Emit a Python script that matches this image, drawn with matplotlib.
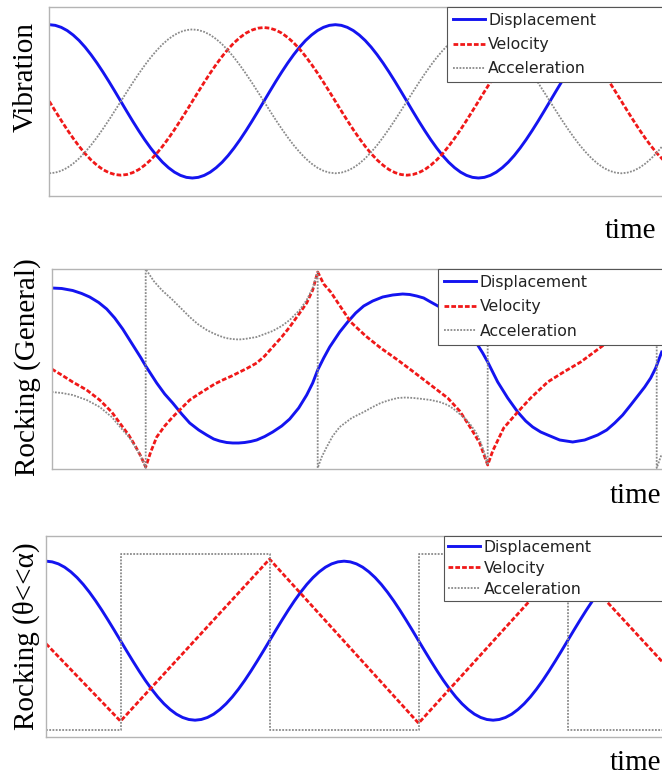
import matplotlib
matplotlib.use('Agg')
import matplotlib.pyplot as plt

# ---------------- Panel 1: Vibration (time in degrees of phase, 7.5 deg steps) ----------------
vib_time = [7.5 * i for i in range(105)]
vib_disp = [0.810, 0.803, 0.782, 0.748, 0.701, 0.643, 0.573, 0.493, 0.405, 0.310, 0.210, 0.106, 0.000,
            -0.106, -0.210, -0.310, -0.405, -0.493, -0.573, -0.643, -0.701, -0.748, -0.782, -0.803, -0.810,
            -0.803, -0.782, -0.748, -0.701, -0.643, -0.573, -0.493, -0.405, -0.310, -0.210, -0.106, 0.000,
            0.106, 0.210, 0.310, 0.405, 0.493, 0.573, 0.643, 0.701, 0.748, 0.782, 0.803,
            0.810, 0.803, 0.782, 0.748, 0.701, 0.643, 0.573, 0.493, 0.405, 0.310, 0.210, 0.106, 0.000,
            -0.106, -0.210, -0.310, -0.405, -0.493, -0.573, -0.643, -0.701, -0.748, -0.782, -0.803, -0.810,
            -0.803, -0.782, -0.748, -0.701, -0.643, -0.573, -0.493, -0.405, -0.310, -0.210, -0.106, 0.000,
            0.106, 0.210, 0.310, 0.405, 0.493, 0.573, 0.643, 0.701, 0.748, 0.782, 0.803,
            0.810, 0.803, 0.782, 0.748, 0.701, 0.643, 0.573, 0.493, 0.405]
vib_vel = [0.000, -0.102, -0.202, -0.299, -0.390, -0.475, -0.552, -0.619, -0.675, -0.721, -0.753, -0.773, -0.780,
           -0.773, -0.753, -0.721, -0.675, -0.619, -0.552, -0.475, -0.390, -0.299, -0.202, -0.102, 0.000,
           0.102, 0.202, 0.299, 0.390, 0.475, 0.552, 0.619, 0.675, 0.721, 0.753, 0.773, 0.780,
           0.773, 0.753, 0.721, 0.675, 0.619, 0.552, 0.475, 0.390, 0.299, 0.202, 0.102,
           0.000, -0.102, -0.202, -0.299, -0.390, -0.475, -0.552, -0.619, -0.675, -0.721, -0.753, -0.773, -0.780,
           -0.773, -0.753, -0.721, -0.675, -0.619, -0.552, -0.475, -0.390, -0.299, -0.202, -0.102, 0.000,
           0.102, 0.202, 0.299, 0.390, 0.475, 0.552, 0.619, 0.675, 0.721, 0.753, 0.773, 0.780,
           0.773, 0.753, 0.721, 0.675, 0.619, 0.552, 0.475, 0.390, 0.299, 0.202, 0.102,
           0.000, -0.102, -0.202, -0.299, -0.390, -0.475, -0.552, -0.619, -0.675]
vib_acc = [-0.760, -0.753, -0.734, -0.702, -0.658, -0.603, -0.537, -0.463, -0.380, -0.291, -0.197, -0.099, 0.000,
           0.099, 0.197, 0.291, 0.380, 0.463, 0.537, 0.603, 0.658, 0.702, 0.734, 0.753, 0.760,
           0.753, 0.734, 0.702, 0.658, 0.603, 0.537, 0.463, 0.380, 0.291, 0.197, 0.099, 0.000,
           -0.099, -0.197, -0.291, -0.380, -0.463, -0.537, -0.603, -0.658, -0.702, -0.734, -0.753,
           -0.760, -0.753, -0.734, -0.702, -0.658, -0.603, -0.537, -0.463, -0.380, -0.291, -0.197, -0.099, 0.000,
           0.099, 0.197, 0.291, 0.380, 0.463, 0.537, 0.603, 0.658, 0.702, 0.734, 0.753, 0.760,
           0.753, 0.734, 0.702, 0.658, 0.603, 0.537, 0.463, 0.380, 0.291, 0.197, 0.099, 0.000,
           -0.099, -0.197, -0.291, -0.380, -0.463, -0.537, -0.603, -0.658, -0.702, -0.734, -0.753,
           -0.760, -0.753, -0.734, -0.702, -0.658, -0.603, -0.537, -0.463, -0.380]

# ---------------- Panel 2: Rocking (General) ----------------
gen_disp_t = [0.00, 0.10, 0.21, 0.30, 0.38, 0.47, 0.55, 0.63, 0.71, 0.77, 0.83, 0.89, 0.94,
              1.05, 1.13, 1.21, 1.30, 1.38, 1.47, 1.55, 1.62, 1.68, 1.75, 1.81, 1.87, 1.93, 1.99,
              2.05, 2.13, 2.21, 2.30, 2.38, 2.47, 2.55, 2.61, 2.66,
              2.72, 2.78, 2.88, 2.96, 3.04, 3.12, 3.21, 3.31, 3.41, 3.51, 3.58, 3.65, 3.72, 3.79,
              3.88, 3.96, 4.04, 4.12, 4.19, 4.26, 4.31, 4.36,
              4.41, 4.46, 4.56, 4.66, 4.74, 4.81, 4.89, 4.96, 5.08, 5.21, 5.33, 5.46, 5.55, 5.63,
              5.71, 5.79, 5.86, 5.93, 5.99, 6.04, 6.10]
gen_disp = [0.81, 0.805, 0.785, 0.755, 0.72, 0.665, 0.60, 0.51, 0.40, 0.305, 0.21, 0.115, 0.03,
            -0.14, -0.25, -0.34, -0.45, -0.54, -0.61, -0.66, -0.70, -0.72, -0.735, -0.74, -0.74, -0.735, -0.725,
            -0.71, -0.675, -0.63, -0.57, -0.50, -0.39, -0.26, -0.14, -0.01,
            0.11, 0.22, 0.37, 0.47, 0.56, 0.63, 0.68, 0.72, 0.74, 0.75, 0.745, 0.73, 0.71, 0.67,
            0.62, 0.56, 0.49, 0.41, 0.33, 0.24, 0.16, 0.07,
            -0.03, -0.13, -0.29, -0.43, -0.52, -0.58, -0.63, -0.66, -0.71, -0.73, -0.71, -0.66, -0.61, -0.54,
            -0.46, -0.36, -0.27, -0.18, -0.09, 0.01, 0.17]

gen_vel_t = [0.00, 0.10, 0.21, 0.35, 0.48, 0.60, 0.71, 0.77, 0.83, 0.89, 0.94,
             0.99, 1.05, 1.13, 1.21, 1.30, 1.38, 1.47, 1.55, 1.63, 1.71, 1.80, 1.88, 1.96, 2.05,
             2.13, 2.21, 2.30, 2.38, 2.48, 2.55, 2.61, 2.66,
             2.72, 2.79, 2.89, 2.99, 3.14, 3.29, 3.46, 3.62, 3.79, 3.96, 4.08, 4.19, 4.28, 4.36,
             4.41, 4.52, 4.66, 4.79, 4.96, 5.12, 5.29, 5.52, 5.68, 5.83, 5.93, 6.00, 6.05, 6.10]
gen_vel = [0.00, -0.06, -0.13, -0.21, -0.31, -0.43, -0.58, -0.66, -0.76, -0.87, -0.98,
           -0.83, -0.68, -0.57, -0.48, -0.39, -0.31, -0.25, -0.20, -0.15, -0.11, -0.07, -0.03, 0.01, 0.06,
           0.13, 0.22, 0.32, 0.42, 0.56, 0.66, 0.79, 0.97,
           0.85, 0.77, 0.62, 0.47, 0.33, 0.21, 0.09, -0.03, -0.16, -0.29, -0.42, -0.59, -0.74, -0.96,
           -0.82, -0.59, -0.43, -0.29, -0.13, -0.03, 0.07, 0.24, 0.41, 0.59, 0.74, 0.84, 0.97, 0.80]

gen_acc_t = [0.00, 0.10, 0.21, 0.35, 0.48, 0.60, 0.71, 0.78, 0.83, 0.89, 0.94,
             0.94, 1.02, 1.10, 1.21, 1.30, 1.38, 1.46, 1.55, 1.62, 1.68, 1.74, 1.80, 1.87, 1.93,
             1.99, 2.05, 2.13, 2.21, 2.30, 2.38, 2.43, 2.48, 2.55, 2.61, 2.66,
             2.66, 2.70, 2.75, 2.81, 2.88, 3.00, 3.12, 3.21, 3.29, 3.38, 3.46, 3.54, 3.62, 3.71,
             3.79, 3.88, 3.96, 4.02, 4.08, 4.14, 4.19, 4.24, 4.28, 4.32, 4.36,
             4.36, 4.44, 4.52, 4.63, 4.72, 4.80, 4.88, 4.97, 5.04, 5.10, 5.16, 5.22, 5.29, 5.35,
             5.41, 5.47, 5.55, 5.63, 5.72, 5.80, 5.85, 5.90, 5.95, 6.00, 6.05,
             6.05, 6.10]
gen_acc = [-0.23, -0.24, -0.26, -0.31, -0.38, -0.48, -0.61, -0.69, -0.77, -0.87, -0.99,
           1.00, 0.88, 0.79, 0.69, 0.60, 0.52, 0.45, 0.39, 0.355, 0.33, 0.31, 0.30, 0.295, 0.30,
           0.31, 0.32, 0.35, 0.38, 0.43, 0.49, 0.54, 0.59, 0.69, 0.81, 0.97,
           -0.99, -0.88, -0.78, -0.67, -0.58, -0.49, -0.43, -0.38, -0.34, -0.31, -0.29, -0.285, -0.29, -0.30,
           -0.31, -0.33, -0.36, -0.40, -0.45, -0.50, -0.56, -0.63, -0.71, -0.82, -0.96,
           1.00, 0.88, 0.79, 0.69, 0.60, 0.52, 0.45, 0.39, 0.355, 0.33, 0.31, 0.30, 0.295, 0.30,
           0.31, 0.32, 0.35, 0.38, 0.43, 0.49, 0.54, 0.59, 0.69, 0.81, 0.97,
           -0.99, -0.85]

# ---------------- Panel 3: Rocking (theta << alpha), time in degrees ----------------
sm_disp_t = [7.5 * i for i in range(101)]
sm_disp = [0.750, 0.743, 0.723, 0.690, 0.644, 0.587, 0.519, 0.441, 0.355, 0.262, 0.164, 0.063, -0.040,
           -0.143, -0.244, -0.342, -0.435, -0.521, -0.599, -0.667, -0.724, -0.770, -0.803, -0.823, -0.830,
           -0.823, -0.803, -0.770, -0.724, -0.667, -0.599, -0.521, -0.435, -0.342, -0.244, -0.143, -0.040,
           0.063, 0.164, 0.262, 0.355, 0.441, 0.519, 0.587, 0.644, 0.690, 0.723, 0.743,
           0.750, 0.743, 0.723, 0.690, 0.644, 0.587, 0.519, 0.441, 0.355, 0.262, 0.164, 0.063, -0.040,
           -0.143, -0.244, -0.342, -0.435, -0.521, -0.599, -0.667, -0.724, -0.770, -0.803, -0.823, -0.830,
           -0.823, -0.803, -0.770, -0.724, -0.667, -0.599, -0.521, -0.435, -0.342, -0.244, -0.143, -0.040,
           0.063, 0.164, 0.262, 0.355, 0.441, 0.519, 0.587, 0.644, 0.690, 0.723, 0.743,
           0.750, 0.743, 0.723, 0.690, 0.644]
sm_vel_t = [0, 90, 270, 450, 630, 750]
sm_vel = [-0.07, -0.84, 0.77, -0.86, 0.77, -0.30]
sm_acc_t = [0, 90, 270, 450, 630, 750]
sm_acc = [-0.93, 0.82, -0.93, 0.82, -0.93, -0.93]

labels = ['Displacement', 'Velocity', 'Acceleration']
ylabels = ['Vibration', 'Rocking (General)', 'Rocking (\u03b8<<\u03b1)']

BLUE = '#1414f0'
RED = '#f01818'
GRAY = '#8a8a8a'

W, H = 662, 775
fig = plt.figure(figsize=(W / 100, H / 100), dpi=100)


def make_axes(left_px, top_px, bottom_px):
    ax = fig.add_axes([left_px / W, 1 - bottom_px / H, 1 - left_px / W, (bottom_px - top_px) / H])
    ax.set_xticks([])
    ax.set_yticks([])
    for side in ['left', 'top', 'bottom']:
        ax.spines[side].set_color('#b4b4b4')
        ax.spines[side].set_linewidth(1.0)
    ax.spines['right'].set_visible(False)
    ax.set_ylim(-1, 1)
    return ax


def draw(ax, td, d, tv, v, ta, a, xmax, acc_steps=False):
    ax.plot(td, d, color=BLUE, lw=2.1, label=labels[0])
    ax.plot(tv, v, color=RED, lw=2.0, dashes=(1.7, 0.75), label=labels[1])
    ax.plot(ta, a, color=GRAY, lw=1.3, dashes=(1, 0.8),
            drawstyle='steps-post' if acc_steps else 'default', label=labels[2])
    ax.set_xlim(0, xmax)


def legend(ax, xfrac, spacing, pad):
    leg = ax.legend(loc='upper left', bbox_to_anchor=(xfrac, 0.0, 0.6, 1.0), mode='expand',
                    borderaxespad=0, fancybox=False, framealpha=1, edgecolor='#555555',
                    prop={'family': 'DejaVu Sans', 'size': 11.3},
                    handlelength=2.05, handletextpad=0.2, borderpad=pad,
                    labelspacing=spacing)
    leg.get_frame().set_linewidth(0.8)
    for t in leg.get_texts():
        t.set_color('#222222')


serif = {'family': 'Liberation Serif', 'size': 21}

# Panel 1
ax1 = make_axes(49.3, 6.7, 196)
draw(ax1, vib_time, vib_disp, vib_time, vib_vel, vib_time, vib_acc, 771)
legend(ax1, 0.649, 0.6, 0.38)

# Panel 2
ax2 = make_axes(51.7, 269, 469)
draw(ax2, gen_disp_t, gen_disp, gen_vel_t, gen_vel, gen_acc_t, gen_acc, 6.103)
legend(ax2, 0.6335, 0.6, 0.38)

# Panel 3
ax3 = make_axes(46, 536, 737.3)
draw(ax3, sm_disp_t, sm_disp, sm_vel_t, sm_vel, sm_acc_t, sm_acc, 744, acc_steps=True)
legend(ax3, 0.6466, 0.38, 0.25)

# y labels
for (xc, yc), txt in zip([(26, 77.5), (27.5, 367.5), (26.5, 636)], ylabels):
    fig.text(xc / W, 1 - yc / H, txt, rotation=90, ha='center', va='center', **serif)

# "time" labels
for xr, yb in [(656, 238), (661, 503), (661, 769.5)]:
    fig.text(xr / W, 1 - yb / H, 'time', ha='right', va='baseline', **serif)

fig.savefig('out.png', dpi=100)
